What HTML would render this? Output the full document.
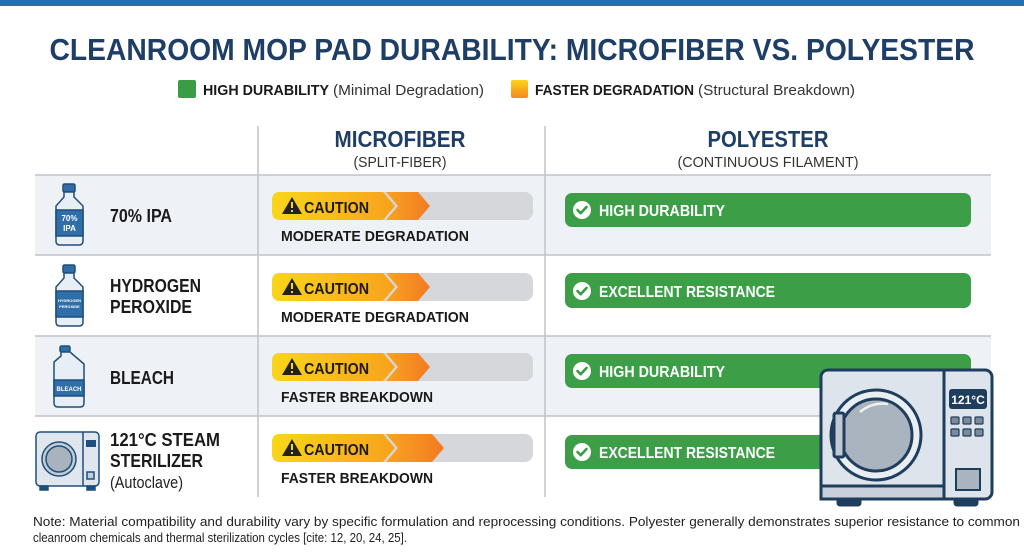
<!DOCTYPE html>
<html><head><meta charset="utf-8"><style>
html,body{margin:0;padding:0;background:#fff;}
svg{display:block;font-family:"Liberation Sans",sans-serif;}
</style></head><body>
<svg width="1024" height="559" viewBox="0 0 1024 559" xmlns="http://www.w3.org/2000/svg">
<defs>
<linearGradient id="yo" x1="0" x2="1" y1="0" y2="0"><stop offset="0" stop-color="#f9d61a"/><stop offset="1" stop-color="#f7a21c"/></linearGradient>
<linearGradient id="or" x1="0" x2="1" y1="0" y2="0"><stop offset="0" stop-color="#f8a420"/><stop offset="1" stop-color="#f27a22"/></linearGradient>
<linearGradient id="lg" x1="0" x2="0" y1="0" y2="1"><stop offset="0" stop-color="#fbd31a"/><stop offset="1" stop-color="#f58a20"/></linearGradient>
<g id="caut"><path d="M12,3 L22,20 L2,20 Z" fill="#222"/><rect x="11" y="8" width="2" height="6" fill="#f9d61a"/><rect x="11" y="16" width="2" height="2" fill="#f9d61a"/></g>
<g id="chk"><circle cx="10" cy="10" r="9" fill="#fff"/><path d="M5.5,10 L8.7,13.2 L14.5,7" stroke="#3a9d45" stroke-width="2.6" fill="none" stroke-linecap="round" stroke-linejoin="round"/></g>
</defs>
<rect x="0" y="0" width="1024" height="6" fill="#2c6ea8"/>
<text x="512" y="60" text-anchor="middle" font-size="31" font-weight="bold" fill="#1f3e66" textLength="925" lengthAdjust="spacingAndGlyphs">CLEANROOM MOP PAD DURABILITY: MICROFIBER VS. POLYESTER</text>
<rect x="178" y="80" width="18" height="18" rx="2" fill="#3a9d45"/>
<text x="203" y="95" font-size="15" font-weight="bold" fill="#1a1a1a" textLength="126" lengthAdjust="spacingAndGlyphs">HIGH DURABILITY</text>
<text x="333" y="95" font-size="15" fill="#333" textLength="151" lengthAdjust="spacingAndGlyphs">(Minimal Degradation)</text>
<rect x="511" y="80" width="17" height="18" rx="2" fill="url(#lg)"/>
<text x="535" y="95" font-size="15" font-weight="bold" fill="#1a1a1a" textLength="159" lengthAdjust="spacingAndGlyphs">FASTER DEGRADATION</text>
<text x="698" y="95" font-size="15" fill="#333" textLength="157" lengthAdjust="spacingAndGlyphs">(Structural Breakdown)</text>
<text x="400" y="147" text-anchor="middle" font-size="23" font-weight="bold" fill="#1f3e66" textLength="131" lengthAdjust="spacingAndGlyphs">MICROFIBER</text>
<text x="400" y="167" text-anchor="middle" font-size="15" fill="#333" textLength="93" lengthAdjust="spacingAndGlyphs">(SPLIT-FIBER)</text>
<text x="768" y="147" text-anchor="middle" font-size="23" font-weight="bold" fill="#1f3e66" textLength="121" lengthAdjust="spacingAndGlyphs">POLYESTER</text>
<text x="768" y="167" text-anchor="middle" font-size="15" fill="#333" textLength="181" lengthAdjust="spacingAndGlyphs">(CONTINUOUS FILAMENT)</text>
<rect x="35" y="175" width="956" height="80" fill="#eef1f6"/>
<rect x="35" y="336" width="956" height="80" fill="#eef1f6"/>
<g stroke="#bfc3c9" stroke-width="1.5">
<line x1="35" y1="175" x2="991" y2="175"/><line x1="35" y1="255" x2="991" y2="255"/>
<line x1="35" y1="336" x2="991" y2="336"/><line x1="35" y1="416" x2="991" y2="416"/>
<line x1="258" y1="126" x2="258" y2="497"/><line x1="545" y1="126" x2="545" y2="497"/>
</g>
<g font-weight="bold" fill="#1a1a1a" font-size="18">
<text x="110" y="222" textLength="62" lengthAdjust="spacingAndGlyphs">70% IPA</text>
<text x="110" y="292" textLength="91" lengthAdjust="spacingAndGlyphs">HYDROGEN</text>
<text x="110" y="313" textLength="82" lengthAdjust="spacingAndGlyphs">PEROXIDE</text>
<text x="110" y="384" textLength="64" lengthAdjust="spacingAndGlyphs">BLEACH</text>
<text x="110" y="446" textLength="110" lengthAdjust="spacingAndGlyphs">121°C STEAM</text>
<text x="110" y="467" textLength="93" lengthAdjust="spacingAndGlyphs">STERILIZER</text>
</g>
<text x="110" y="488" font-size="17" fill="#222" textLength="73" lengthAdjust="spacingAndGlyphs">(Autoclave)</text>
<g stroke="#1f4f7a" stroke-width="1.5">
<g><rect x="63" y="184" width="12" height="8" rx="1.5" fill="#2f6ea8"/><path d="M64,192 L74,192 L74,197 L83,206 L83,241 Q83,245 79,245 L60,245 Q56,245 56,241 L56,206 L64,197 Z" fill="#e8eef5"/><rect x="56" y="210" width="27" height="26" fill="#2f6ea8"/></g>
<g transform="translate(0,81)"><rect x="63" y="184" width="12" height="8" rx="1.5" fill="#2f6ea8"/><path d="M64,192 L74,192 L74,197 L83,206 L83,241 Q83,245 79,245 L60,245 Q56,245 56,241 L56,206 L64,197 Z" fill="#e8eef5"/><rect x="56" y="210" width="27" height="26" fill="#2f6ea8"/></g>
<g><rect x="60" y="346" width="10" height="6" rx="1.5" fill="#2f6ea8"/><path d="M61,352 L70,352 L84,364 L84,403 Q84,407 80,407 L58,407 Q54,407 54,403 L54,362 L61,356 Z" fill="#e8eef5"/><rect x="54" y="380" width="30" height="16" fill="#2f6ea8"/></g>
</g>
<g fill="#fff" font-weight="bold" text-anchor="middle">
<text x="69.5" y="221" font-size="8">70%</text><text x="69.5" y="231" font-size="8">IPA</text>
<text x="69.5" y="302" font-size="4">HYDROGEN</text><text x="69.5" y="308" font-size="4">PEROXIDE</text>
<text x="69" y="391" font-size="6">BLEACH</text>
</g>
<g stroke="#1f4f7a" stroke-width="1.5">
<rect x="36" y="432" width="63" height="54" rx="4" fill="#dfe6ee"/>
<line x1="83" y1="432" x2="83" y2="486"/>
<circle cx="59" cy="459" r="17" fill="#c4ccd6"/><circle cx="59" cy="459" r="13" fill="#a9b3bf"/>
<rect x="40" y="486" width="8" height="4" fill="#1f4f7a"/><rect x="87" y="486" width="8" height="4" fill="#1f4f7a"/>
<rect x="87" y="472" width="7" height="7" fill="#c4ccd6"/>
</g>
<rect x="86" y="440" width="10" height="7" fill="#1f4f7a"/>
<g id="cb1">
<rect x="272" y="192" width="261" height="28" rx="8" fill="#d5d7da"/>
<path d="M280,192 L383,192 L395,206 L383,220 L280,220 Q272,220 272,212 L272,200 Q272,192 280,192 Z" fill="url(#yo)"/>
<path d="M386,192 L418,192 L430,206 L418,220 L386,220 L398,206 Z" fill="url(#or)"/>
<use href="#caut" x="280" y="194"/>
<text x="304" y="213" font-size="16" font-weight="bold" fill="#1a1a1a" textLength="65" lengthAdjust="spacingAndGlyphs">CAUTION</text>
</g>
<use href="#cb1" y="81"/>
<use href="#cb1" y="161"/>
<g transform="translate(0,242)">
<rect x="272" y="192" width="261" height="28" rx="8" fill="#d5d7da"/>
<path d="M280,192 L383,192 L395,206 L383,220 L280,220 Q272,220 272,212 L272,200 Q272,192 280,192 Z" fill="url(#yo)"/>
<path d="M386,192 L432,192 L444,206 L432,220 L386,220 L398,206 Z" fill="url(#or)"/>
<use href="#caut" x="280" y="194"/>
<text x="304" y="213" font-size="16" font-weight="bold" fill="#1a1a1a" textLength="65" lengthAdjust="spacingAndGlyphs">CAUTION</text>
</g>
<g font-size="15" font-weight="bold" fill="#1a1a1a">
<text x="281" y="241" textLength="188" lengthAdjust="spacingAndGlyphs">MODERATE DEGRADATION</text>
<text x="281" y="322" textLength="188" lengthAdjust="spacingAndGlyphs">MODERATE DEGRADATION</text>
<text x="281" y="402" textLength="152" lengthAdjust="spacingAndGlyphs">FASTER BREAKDOWN</text>
<text x="281" y="483" textLength="152" lengthAdjust="spacingAndGlyphs">FASTER BREAKDOWN</text>
</g>
<g fill="#3c9f47">
<rect x="565" y="193" width="406" height="34" rx="7"/>
<rect x="565" y="273" width="406" height="35" rx="7"/>
<rect x="565" y="354" width="406" height="34" rx="7"/>
<rect x="565" y="435" width="406" height="34" rx="7"/>
</g>
<use href="#chk" x="572" y="200"/><use href="#chk" x="572" y="281"/><use href="#chk" x="572" y="361"/><use href="#chk" x="572" y="442"/>
<g font-size="16" font-weight="bold" fill="#fff">
<text x="599" y="216" textLength="126" lengthAdjust="spacingAndGlyphs">HIGH DURABILITY</text>
<text x="599" y="297" textLength="176" lengthAdjust="spacingAndGlyphs">EXCELLENT RESISTANCE</text>
<text x="599" y="377" textLength="126" lengthAdjust="spacingAndGlyphs">HIGH DURABILITY</text>
<text x="599" y="458" textLength="176" lengthAdjust="spacingAndGlyphs">EXCELLENT RESISTANCE</text>
</g>
<g stroke="#1f3e5e" stroke-width="3">
<rect x="821" y="370" width="171" height="129" rx="7" fill="#dde4ec"/>
<line x1="944" y1="370" x2="944" y2="499"/>
<rect x="821" y="486" width="123" height="13" fill="#c8d1db"/>
<circle cx="876" cy="435" r="45" fill="#e9eef3"/>
<circle cx="876" cy="435" r="36" fill="#aab4bf"/>
<rect x="834" y="413" width="10" height="44" rx="2" fill="#c0c9d3"/>
<rect x="956" y="469" width="24" height="21" fill="#aab4bf" stroke-width="2"/>
<rect x="838" y="499" width="22" height="6" rx="2" fill="#1f3e5e"/><rect x="955" y="499" width="22" height="6" rx="2" fill="#1f3e5e"/>
</g>
<path d="M860,412 Q872,402 888,404" stroke="#fff" stroke-width="2.5" fill="none" opacity="0.8"/>
<rect x="949" y="389" width="38" height="20" rx="3" fill="#1f3e5e"/>
<text x="968" y="404" text-anchor="middle" font-size="12" font-weight="bold" fill="#fff">121°C</text>
<g fill="#7d8a98" stroke="#1f3e5e" stroke-width="1.2">
<rect x="951" y="417" width="8" height="7" rx="1"/><rect x="963" y="417" width="8" height="7" rx="1"/><rect x="975" y="417" width="8" height="7" rx="1"/>
<rect x="951" y="429" width="8" height="7" rx="1"/><rect x="963" y="429" width="8" height="7" rx="1"/><rect x="975" y="429" width="8" height="7" rx="1"/>
</g>
<g font-size="12.5" fill="#222">
<text x="33" y="526" textLength="987" lengthAdjust="spacingAndGlyphs">Note: Material compatibility and durability vary by specific formulation and reprocessing conditions. Polyester generally demonstrates superior resistance to common</text>
<text x="33" y="542" textLength="374" lengthAdjust="spacingAndGlyphs">cleanroom chemicals and thermal sterilization cycles [cite: 12, 20, 24, 25].</text>
</g>
</svg>
</body></html>
